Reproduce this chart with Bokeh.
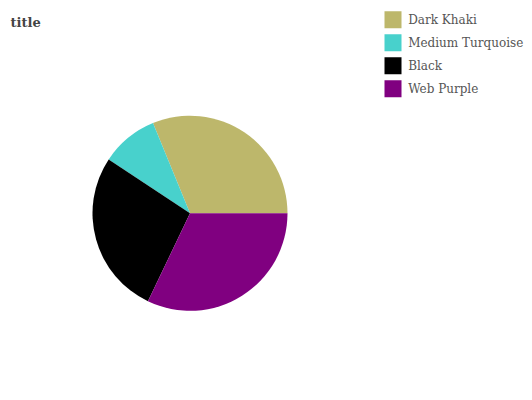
import math
from bokeh.plotting import figure
from bokeh.models import Range1d, ColumnDataSource, Label
from bokeh.embed import file_html
from bokeh.resources import INLINE
from bokeh.core.properties import value

categories = ["Dark Khaki", "Medium Turquoise", "Black", "Web Purple"]
values = [31.2, 9.5, 27.2, 32.1]
colors = ["#BDB76B", "#48D1CC", "#000000", "#800080"]

W, H = 532, 400
p = figure(width=W, height=H, output_backend="svg", toolbar_location=None,
           x_range=Range1d(0, W), y_range=Range1d(0, H), min_border=0)
p.axis.visible = False
p.grid.visible = False
p.outline_line_color = None
p.background_fill_color = "white"
p.border_fill_color = "white"

total = sum(values)
starts, ends = [], []
acc = 0.0
for v in values:
    starts.append(2 * math.pi * acc / total)
    acc += v
    ends.append(2 * math.pi * acc / total)

src = ColumnDataSource(dict(cat=categories, val=values, color=colors,
                            start=starts, end=ends))
cx, cy, r = 189.5, H - 212.8, 97.5
p.wedge(x=cx, y=cy, radius=r, start_angle="start", end_angle="end",
        fill_color="color", line_color=None, source=src)

# legend
leg_x, leg_y0, leg_dy = 392.5, H - 19.3, 23.0
lx = [leg_x] * len(categories)
ly = [leg_y0 - i * leg_dy for i in range(len(categories))]
lsrc = ColumnDataSource(dict(x=lx, y=ly, tx=[x + 15.2 for x in lx],
                             cat=categories, color=colors))
p.rect(x="x", y="y", width=17, height=17, width_units="screen",
       height_units="screen", fill_color="color", line_color=None, source=lsrc)
p.text(x="tx", y="y", text="cat", text_font=value("DejaVu Serif"),
       text_font_size="12px", text_color="#555555", text_baseline="middle",
       text_align="left", source=lsrc)

title = Label(x=10, y=H - 22, x_units="screen", y_units="screen", text="title",
              text_font="DejaVu Serif", text_font_style="bold",
              text_font_size="13px", text_color="#444444", text_baseline="alphabetic")
p.add_layout(title)

open("out.html", "w").write(file_html(p, INLINE))
